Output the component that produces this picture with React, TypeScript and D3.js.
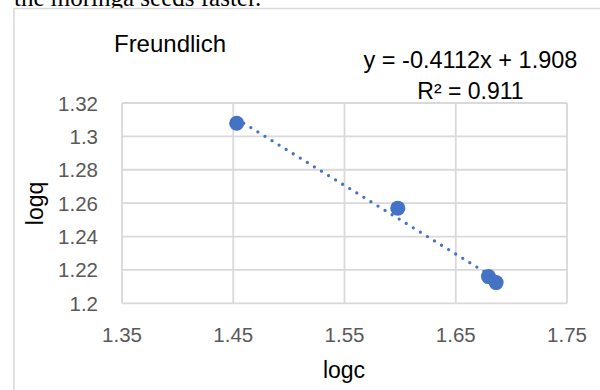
import React from "react";
import * as d3 from "d3";

const logc = [1.4531, 1.5979, 1.6794, 1.6863];
const logq = [1.3079, 1.257, 1.216, 1.2124];
const xTicks = [1.35, 1.45, 1.55, 1.65, 1.75];
const yTicks = [1.2, 1.22, 1.24, 1.26, 1.28, 1.3, 1.32];
const slope = -0.4112;
const intercept = 1.908;
const titleText = "Freundlich";
const equationText = "y = -0.4112x + 1.908";
const r2Text = "R² = 0.911";
const xLabel = "logc";
const yLabel = "logq";
const bodyText = "the moringa seeds faster.";

export default function App() {
  const W = 600, H = 390;
  const x = d3.scaleLinear().domain([1.35, 1.75]).range([122, 567]);
  const y = d3.scaleLinear().domain([1.2, 1.32]).range([303.3, 103]);
  const font = "Liberation Sans, Arial, sans-serif";
  const grid = "#d9d9d9";
  const blue = "#4472C4";
  const xmin = d3.min(logc) as number;
  const xmax = d3.max(logc) as number;
  const trend = d3.line<number>().x((d) => x(d)).y((d) => y(slope * d + intercept));
  return (
    <svg width={W} height={H} style={{ position: "absolute", left: 0, top: 0, background: "#fff" }}>
      <rect x={0} y={0} width={W} height={H} fill="#fff" />
      <text x={14} y={6} fontFamily="Liberation Serif, Times New Roman, serif" fontSize={25} fill="#000">
        {bodyText}
      </text>
      <rect x={14} y={8.5} width={700} height={500} fill="#fff" stroke={grid} strokeWidth={1.5} />
      {yTicks.map((t) => (
        <line key={"h" + t} x1={x(1.35)} x2={x(1.75)} y1={y(t)} y2={y(t)} stroke={grid} strokeWidth={1.8} />
      ))}
      {xTicks.map((t) => (
        <line key={"v" + t} x1={x(t)} x2={x(t)} y1={y(1.2)} y2={y(1.32)} stroke={grid} strokeWidth={1.8} />
      ))}
      {yTicks.map((t) => (
        <text key={"yt" + t} x={98} y={y(t) + 7.5} textAnchor="end" fontFamily={font} fontSize={20.5} fill="#595959">
          {d3.format("")(+t.toFixed(2))}
        </text>
      ))}
      {xTicks.map((t) => (
        <text key={"xt" + t} x={x(t)} y={342} textAnchor="middle" fontFamily={font} fontSize={20.5} fill="#595959">
          {t.toFixed(2)}
        </text>
      ))}
      <path d={trend([xmin, xmax]) as string} fill="none" stroke={blue} strokeWidth={3.3} strokeDasharray="0 8.3" strokeLinecap="round" />
      {logc.map((c, i) => (
        <circle key={"p" + i} cx={x(c)} cy={y(logq[i])} r={7.5} fill={blue} />
      ))}
      <text x={170} y={52} textAnchor="middle" fontFamily={font} fontSize={24} fill="#000">
        {titleText}
      </text>
      <text x={470.5} y={68} textAnchor="middle" fontFamily={font} fontSize={23.5} fill="#000">
        {equationText}
      </text>
      <text x={470.5} y={99} textAnchor="middle" fontFamily={font} fontSize={23} fill="#000">
        {r2Text}
      </text>
      <text x={344} y={378} textAnchor="middle" fontFamily={font} fontSize={23} fill="#000">
        {xLabel}
      </text>
      <text transform={`translate(43,203.5) rotate(-90)`} textAnchor="middle" fontFamily={font} fontSize={23} fill="#000">
        {yLabel}
      </text>
    </svg>
  );
}
